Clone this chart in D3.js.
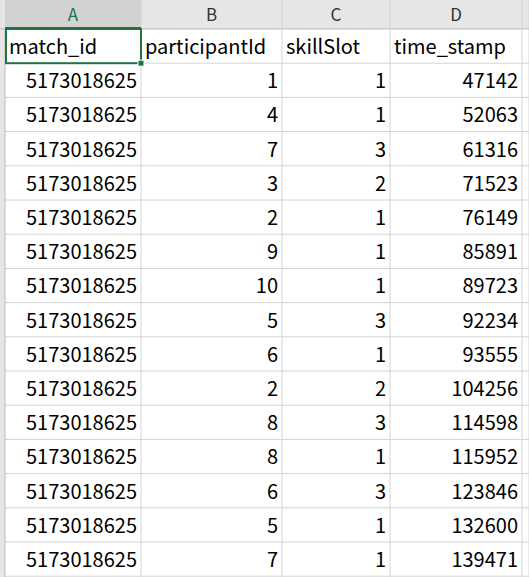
<!DOCTYPE html>
<html><head><meta charset="utf-8">
<script src="https://cdn.jsdelivr.net/npm/d3@7"></script>
<style>body{margin:0;background:#fff;}svg{display:block;}</style>
</head><body>
<svg id="sheet" width="529" height="577"></svg>
<script>
// column letters and header row
const colLetters = ['A', 'B', 'C', 'D'];
const fieldNames = ['match_id', 'participantId', 'skillSlot', 'time_stamp'];
// data rows
const matchIds = Array(15).fill('5173018625');
const participantIds = [1, 4, 7, 3, 2, 9, 10, 5, 6, 2, 8, 8, 6, 5, 7];
const skillSlots = [1, 1, 3, 2, 1, 1, 1, 3, 1, 2, 3, 1, 3, 1, 1];
const timeStamps = [47142, 52063, 61316, 71523, 76149, 85891, 89723, 92234, 93555, 104256, 114598, 115952, 123846, 132600, 139471];

const svg = d3.select('#sheet');
const font = '"Noto Sans CJK KR", "Noto Sans", sans-serif';
const colEdges = [5, 141, 282, 390, 522, 529];
const headH = 29, rowH = 34.2;
const nRows = 16;
const y = i => headH + i * rowH;

// column header band
svg.append('rect').attr('x', 0).attr('y', 0).attr('width', 529).attr('height', headH).attr('fill', '#e6e6e6');
svg.append('rect').attr('x', colEdges[0]).attr('y', 0).attr('width', colEdges[1] - colEdges[0]).attr('height', headH).attr('fill', '#d2d2d2');
svg.append('rect').attr('x', 0).attr('y', headH).attr('width', colEdges[0]).attr('height', 577).attr('fill', '#e6e6e6');

// grid lines
for (let i = 1; i <= nRows; i++) {
  svg.append('line').attr('x1', colEdges[0]).attr('x2', 529).attr('y1', y(i)).attr('y2', y(i)).attr('stroke', '#d4d4d4');
}
colEdges.forEach((x, i) => {
  svg.append('line').attr('x1', x).attr('x2', x).attr('y1', i === 0 ? headH : 0).attr('y2', 577).attr('stroke', i === 0 ? '#bdbdbd' : '#d4d4d4');
});
svg.append('line').attr('x1', 0).attr('x2', 529).attr('y1', headH).attr('y2', headH).attr('stroke', '#bdbdbd');
svg.append('line').attr('x1', colEdges[0]).attr('x2', colEdges[1]).attr('y1', headH - 1).attr('y2', headH - 1).attr('stroke', '#217346').attr('stroke-width', 2);

svg.selectAll('text.col').data(colLetters).enter().append('text')
  .attr('x', (d, i) => (colEdges[i] + colEdges[i + 1]) / 2).attr('y', 21)
  .attr('text-anchor', 'middle').attr('font-family', font).attr('font-size', 17)
  .attr('fill', (d, i) => i === 0 ? '#217346' : '#333').text(d => d);

// cells
const columns = [matchIds, participantIds, skillSlots, timeStamps];
fieldNames.forEach((name, c) => {
  svg.append('text').attr('x', colEdges[c] + 4).attr('y', y(0) + 25)
    .attr('font-family', font).attr('font-size', 20).attr('fill', '#000').text(name);
  columns[c].forEach((v, r) => {
    svg.append('text').attr('x', colEdges[c + 1] - 4).attr('y', y(r + 1) + 25)
      .attr('text-anchor', 'end').attr('font-family', font).attr('font-size', 20).attr('fill', '#000').text(v);
  });
});

// selected cell border
svg.append('rect').attr('x', colEdges[0] + 1).attr('y', y(0)).attr('width', colEdges[1] - colEdges[0] - 1).attr('height', rowH)
  .attr('fill', 'none').attr('stroke', '#217346').attr('stroke-width', 2);
svg.append('rect').attr('x', colEdges[1] - 3).attr('y', y(1) - 3).attr('width', 6).attr('height', 6)
  .attr('fill', '#217346').attr('stroke', '#fff');
</script>
</body></html>
